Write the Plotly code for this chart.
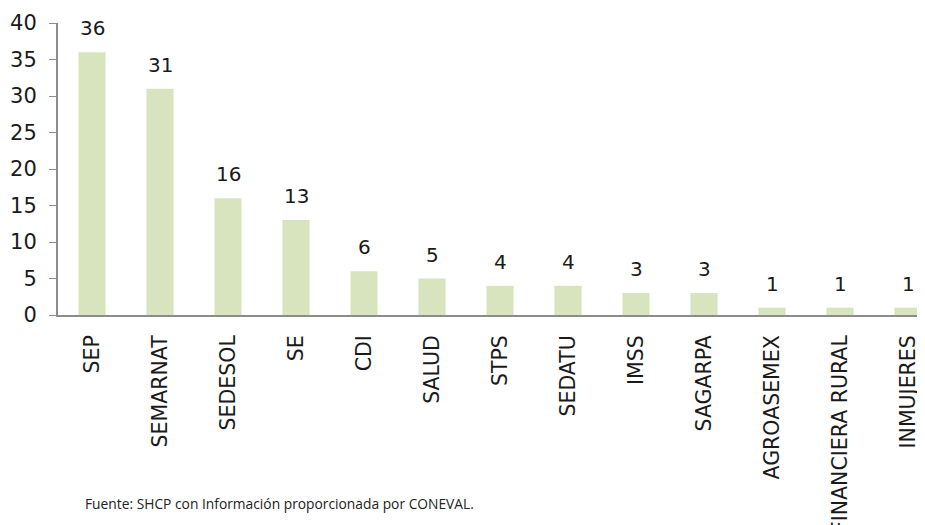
import plotly.graph_objects as go

categories = ["SEP", "SEMARNAT", "SEDESOL", "SE", "CDI", "SALUD", "STPS", "SEDATU",
              "IMSS", "SAGARPA", "AGROASEMEX", "FINANCIERA RURAL", "INMUJERES"]
values = [36, 31, 16, 13, 6, 5, 4, 4, 3, 3, 1, 1, 1]
y_ticks = [0, 5, 10, 15, 20, 25, 30, 35, 40]
source_note = "Fuente: SHCP con Información proporcionada por CONEVAL."

FONT = "Verdana, DejaVu Sans, sans-serif"

fig = go.Figure()
fig.add_trace(go.Bar(
    x=categories, y=values, width=0.4,
    marker=dict(color="#d7e4bd", line=dict(width=0)),
    hoverinfo="x+y",
))

for c, v in zip(categories, values):
    fig.add_annotation(x=c, y=v, text=str(v), showarrow=False,
                       yanchor="bottom", yshift=10,
                       font=dict(family=FONT, size=20, color="#1a1a1a"))

fig.add_annotation(xref="paper", yref="paper", x=0.0288, y=-0.647, text=source_note,
                   showarrow=False, xanchor="left", yanchor="middle",
                   font=dict(family="Open Sans", size=13.8, color="#222"))

fig.update_layout(
    width=917, height=517,
    margin=dict(l=50, r=0, t=15, b=210),
    plot_bgcolor="white", paper_bgcolor="white",
    showlegend=False,
    xaxis=dict(range=[-0.5, 12.25], tickangle=-90, showline=True, linecolor="#8c8c8c",
               linewidth=2, ticks="", showgrid=False, automargin=False,
               ticklabelstandoff=10,
               tickfont=dict(family=FONT, size=20.5, color="#1a1a1a")),
    yaxis=dict(range=[0, 40], tickvals=y_ticks, showline=True, linecolor="#8c8c8c",
               linewidth=2, ticks="outside", ticklen=7, tickcolor="#8c8c8c", tickwidth=1,
               ticklabelstandoff=8, showgrid=False, zeroline=False, automargin=False,
               tickfont=dict(family=FONT, size=21, color="#1a1a1a")),
)

fig.write_html("out.html")
